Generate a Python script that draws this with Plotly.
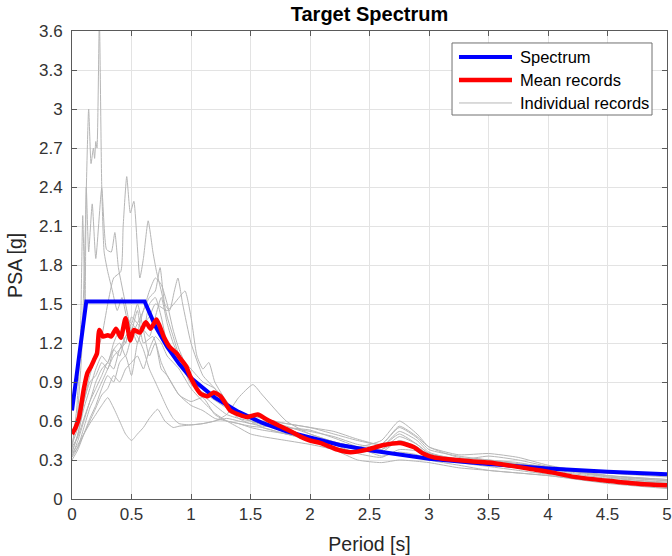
import plotly.graph_objects as go

# Target (design) spectrum
spec_T = [0.0, 0.12, 0.61, 0.7, 0.8, 0.9, 1.0, 1.2, 1.4, 1.6, 1.8, 2.0, 2.25, 2.5, 2.75,
          3.0, 3.5, 4.0, 4.5, 5.0]
spec_psa = [0.68, 1.52, 1.52, 1.33, 1.17, 1.04, 0.93, 0.78, 0.67, 0.585, 0.52, 0.47, 0.415,
            0.375, 0.34, 0.31, 0.27, 0.235, 0.21, 0.19]

# Mean of the selected records
mean_T = [0.0, 0.03, 0.06, 0.1, 0.13, 0.16, 0.19, 0.21, 0.23, 0.26, 0.3, 0.33, 0.37, 0.41,
          0.45, 0.49, 0.52, 0.57, 0.62, 0.66, 0.71, 0.77, 0.82, 0.88, 0.91, 0.96, 0.99,
          1.04, 1.08, 1.14, 1.19, 1.25, 1.33, 1.4, 1.47, 1.56, 1.64, 1.75, 1.86, 1.92,
          2.0, 2.09, 2.23, 2.34, 2.48, 2.62, 2.76, 2.87, 2.95, 3.04, 3.16, 3.35, 3.5,
          3.66, 3.86, 4.03, 4.22, 4.5, 4.78, 5.0]
mean_psa = [0.5, 0.55, 0.63, 0.85, 0.97, 1.02, 1.08, 1.12, 1.3, 1.25, 1.26, 1.25, 1.31,
            1.24, 1.39, 1.22, 1.3, 1.28, 1.36, 1.31, 1.38, 1.25, 1.17, 1.12, 1.08, 1.02,
            0.95, 0.86, 0.81, 0.79, 0.82, 0.79, 0.68, 0.65, 0.63, 0.65, 0.61, 0.56, 0.51,
            0.48, 0.45, 0.43, 0.38, 0.36, 0.38, 0.415, 0.43, 0.4, 0.35, 0.32, 0.305, 0.29,
            0.28, 0.26, 0.23, 0.205, 0.17, 0.14, 0.115, 0.105]

# Individual ground-motion records
rec01_T = [0.0, 0.04, 0.08, 0.11, 0.14, 0.16, 0.18, 0.19, 0.2, 0.21, 0.23, 0.25, 0.27, 0.3,
           0.34, 0.38, 0.42, 0.46, 0.5, 0.55, 0.6, 0.65, 0.7, 0.75, 0.8, 0.9, 1.0, 1.1,
           1.2, 1.3, 1.4, 1.5, 1.6, 1.8, 2.0, 2.2, 2.4, 2.6, 2.75, 2.9, 3.0, 3.25, 3.5,
           3.75, 4.0, 4.5, 5.0]
rec01_psa = [0.42, 0.6, 1.1, 2.0, 3.0, 2.58, 2.7, 2.62, 2.75, 2.7, 3.7, 2.4, 1.9, 1.75,
             1.6, 1.45, 1.55, 1.4, 1.35, 1.5, 1.3, 1.1, 1.2, 1.0, 0.95, 0.8, 0.72, 0.68,
             0.62, 0.6, 0.58, 0.55, 0.53, 0.5, 0.45, 0.4, 0.36, 0.4, 0.5, 0.42, 0.35, 0.3,
             0.27, 0.24, 0.2, 0.15, 0.12]

rec02_T = [0.0, 0.04, 0.07, 0.09, 0.11, 0.12, 0.14, 0.17, 0.2, 0.25, 0.29, 0.33, 0.36,
           0.39, 0.45, 0.5, 0.55, 0.6, 0.68, 0.75, 0.8, 0.9, 1.0, 1.1, 1.2, 1.3, 1.4, 1.5,
           1.6, 1.8, 2.0, 2.2, 2.4, 2.6, 2.75, 2.9, 3.0, 3.25, 3.5, 3.75, 4.0, 4.5, 5.0]
rec02_psa = [0.38, 0.7, 1.2, 2.18, 1.5, 2.4, 1.9, 2.27, 1.85, 2.39, 1.92, 1.9, 2.05, 1.78,
             1.5, 1.3, 1.45, 1.2, 1.25, 1.05, 0.95, 0.8, 0.75, 0.78, 0.65, 0.6, 0.58, 0.56,
             0.55, 0.5, 0.48, 0.42, 0.38, 0.36, 0.45, 0.4, 0.34, 0.3, 0.28, 0.25, 0.22,
             0.16, 0.13]

rec03_T = [0.0, 0.05, 0.1, 0.15, 0.2, 0.25, 0.3, 0.35, 0.41, 0.43, 0.46, 0.49, 0.52, 0.57,
           0.6, 0.64, 0.68, 0.71, 0.75, 0.8, 0.85, 0.9, 0.95, 1.0, 1.1, 1.2, 1.3, 1.4, 1.5,
           1.6, 1.8, 2.0, 2.2, 2.4, 2.6, 2.75, 2.9, 3.0, 3.25, 3.5, 3.75, 4.0, 4.5, 5.0]
rec03_psa = [0.36, 0.5, 0.75, 0.95, 1.1, 1.25, 1.5, 1.7, 1.75, 2.1, 2.48, 2.2, 2.29, 1.7,
             1.85, 2.14, 1.9, 1.75, 1.6, 1.4, 1.25, 1.1, 0.98, 0.88, 0.82, 0.76, 0.7, 0.66,
             0.64, 0.62, 0.58, 0.55, 0.5, 0.45, 0.42, 0.55, 0.47, 0.38, 0.33, 0.3, 0.27,
             0.24, 0.18, 0.15]

rec04_T = [0.0, 0.05, 0.1, 0.15, 0.2, 0.25, 0.3, 0.35, 0.4, 0.45, 0.5, 0.55, 0.6, 0.65,
           0.7, 0.74, 0.78, 0.82, 0.86, 0.89, 0.93, 1.0, 1.1, 1.2, 1.3, 1.4, 1.5, 1.6, 1.8,
           2.0, 2.2, 2.4, 2.6, 2.75, 2.9, 3.0, 3.25, 3.5, 3.75, 4.0, 4.5, 5.0]
rec04_psa = [0.33, 0.45, 0.6, 0.75, 0.85, 0.95, 1.05, 1.0, 1.15, 1.2, 1.35, 1.3, 1.45,
             1.55, 1.6, 1.78, 1.5, 1.45, 1.6, 1.7, 1.5, 1.2, 0.95, 0.85, 0.72, 0.66, 0.6,
             0.57, 0.55, 0.52, 0.48, 0.42, 0.4, 0.52, 0.45, 0.36, 0.3, 0.28, 0.26, 0.23,
             0.17, 0.14]

rec05_T = [0.0, 0.05, 0.1, 0.15, 0.2, 0.25, 0.3, 0.35, 0.4, 0.45, 0.5, 0.55, 0.6, 0.65,
           0.72, 0.78, 0.85, 0.9, 1.0, 1.1, 1.2, 1.3, 1.4, 1.5, 1.6, 1.8, 2.0, 2.2, 2.4,
           2.6, 2.75, 2.9, 3.0, 3.25, 3.5, 3.75, 4.0, 4.5, 5.0]
rec05_psa = [0.35, 0.42, 0.5, 0.58, 0.65, 0.72, 0.78, 0.7, 0.6, 0.5, 0.45, 0.5, 0.55, 0.62,
             0.69, 0.6, 0.55, 0.56, 0.57, 0.58, 0.6, 0.62, 0.6, 0.58, 0.56, 0.55, 0.53,
             0.47, 0.4, 0.33, 0.36, 0.34, 0.3, 0.26, 0.22, 0.2, 0.18, 0.13, 0.1]

rec06_T = [0.0, 0.05, 0.1, 0.15, 0.2, 0.25, 0.3, 0.35, 0.4, 0.45, 0.5, 0.55, 0.6, 0.65,
           0.7, 0.75, 0.8, 0.85, 0.9, 1.0, 1.1, 1.2, 1.3, 1.4, 1.52, 1.6, 1.8, 2.0, 2.2,
           2.4, 2.6, 2.75, 2.9, 3.0, 3.25, 3.5, 3.75, 4.0, 4.5, 5.0]
rec06_psa = [0.32, 0.4, 0.55, 0.7, 0.8, 0.9, 1.0, 1.1, 1.15, 1.25, 1.3, 1.25, 1.15, 1.0,
             0.9, 0.8, 0.7, 0.62, 0.58, 0.57, 0.58, 0.6, 0.65, 0.78, 0.88, 0.8, 0.6, 0.5,
             0.44, 0.4, 0.45, 0.6, 0.5, 0.4, 0.32, 0.3, 0.28, 0.24, 0.18, 0.15]

rec07_T = [0.0, 0.05, 0.1, 0.15, 0.2, 0.25, 0.3, 0.35, 0.4, 0.45, 0.5, 0.55, 0.6, 0.65,
           0.7, 0.8, 0.9, 0.95, 1.0, 1.05, 1.1, 1.15, 1.2, 1.3, 1.4, 1.5, 1.6, 1.8, 2.0,
           2.2, 2.4, 2.6, 2.75, 2.9, 3.0, 3.25, 3.5, 3.75, 4.0, 4.5, 5.0]
rec07_psa = [0.4, 0.48, 0.62, 0.75, 0.9, 1.0, 1.05, 1.15, 1.1, 1.25, 1.3, 1.2, 1.35, 1.4,
             1.5, 1.45, 1.55, 1.6, 1.4, 1.1, 1.0, 1.05, 0.9, 0.75, 0.65, 0.62, 0.6, 0.56,
             0.5, 0.44, 0.4, 0.38, 0.48, 0.42, 0.35, 0.31, 0.29, 0.27, 0.25, 0.2, 0.17]

rec08_T = [0.0, 0.05, 0.1, 0.15, 0.2, 0.25, 0.3, 0.35, 0.4, 0.45, 0.5, 0.55, 0.6, 0.65,
           0.7, 0.75, 0.8, 0.9, 1.0, 1.1, 1.2, 1.3, 1.4, 1.5, 1.6, 1.8, 2.0, 2.2, 2.4, 2.6,
           2.75, 2.9, 3.0, 3.25, 3.5, 3.75, 4.0, 4.5, 5.0]
rec08_psa = [0.36, 0.5, 0.7, 0.85, 1.0, 1.1, 1.05, 1.2, 1.3, 1.2, 1.4, 1.35, 1.3, 1.5,
             1.55, 1.4, 1.2, 1.05, 0.9, 0.8, 0.72, 0.65, 0.62, 0.6, 0.58, 0.52, 0.45, 0.4,
             0.36, 0.38, 0.44, 0.4, 0.34, 0.3, 0.33, 0.3, 0.25, 0.17, 0.12]

rec09_T = [0.0, 0.05, 0.1, 0.15, 0.2, 0.25, 0.3, 0.35, 0.4, 0.45, 0.5, 0.55, 0.6, 0.65,
           0.7, 0.75, 0.8, 0.85, 0.9, 1.0, 1.1, 1.2, 1.3, 1.4, 1.5, 1.6, 1.8, 2.0, 2.2,
           2.4, 2.6, 2.75, 2.9, 3.0, 3.25, 3.5, 3.75, 4.0, 4.5, 5.0]
rec09_psa = [0.3, 0.38, 0.5, 0.62, 0.72, 0.85, 0.95, 0.9, 1.05, 1.1, 0.95, 1.2, 1.3, 1.25,
             1.4, 1.55, 1.35, 1.2, 1.1, 1.0, 0.9, 0.85, 0.75, 0.66, 0.6, 0.55, 0.5, 0.46,
             0.42, 0.35, 0.32, 0.38, 0.37, 0.33, 0.28, 0.25, 0.22, 0.19, 0.13, 0.09]

rec10_T = rec09_T
rec10_psa = [0.42, 0.55, 0.75, 0.9, 0.95, 1.05, 1.0, 1.15, 1.2, 1.1, 1.25, 1.35, 1.45,
             1.6, 1.7, 1.65, 1.5, 1.3, 1.15, 0.95, 0.85, 0.8, 0.7, 0.62, 0.58, 0.6, 0.58,
             0.55, 0.52, 0.46, 0.42, 0.56, 0.48, 0.4, 0.34, 0.35, 0.32, 0.26, 0.18, 0.14]

rec11_T = rec09_T
rec11_psa = [0.34, 0.4, 0.5, 0.6, 0.7, 0.8, 0.85, 0.95, 0.9, 1.0, 1.05, 1.1, 1.0, 1.15,
             1.25, 1.2, 1.1, 1.05, 1.0, 0.85, 0.75, 0.66, 0.6, 0.55, 0.5, 0.48, 0.45, 0.42,
             0.38, 0.3, 0.28, 0.3, 0.29, 0.28, 0.24, 0.22, 0.2, 0.18, 0.12, 0.08]

records = [
    (rec01_T, rec01_psa), (rec02_T, rec02_psa), (rec03_T, rec03_psa),
    (rec04_T, rec04_psa), (rec05_T, rec05_psa), (rec06_T, rec06_psa),
    (rec07_T, rec07_psa), (rec08_T, rec08_psa), (rec09_T, rec09_psa),
    (rec10_T, rec10_psa), (rec11_T, rec11_psa),
]

x_ticks = [0, 0.5, 1, 1.5, 2, 2.5, 3, 3.5, 4, 4.5, 5]
x_labels = ["0", "0.5", "1", "1.5", "2", "2.5", "3", "3.5", "4", "4.5", "5"]
y_ticks = [0, 0.3, 0.6, 0.9, 1.2, 1.5, 1.8, 2.1, 2.4, 2.7, 3.0, 3.3, 3.6]
y_labels = ["0", "0.3", "0.6", "0.9", "1.2", "1.5", "1.8", "2.1", "2.4", "2.7", "3",
            "3.3", "3.6"]

legend_names = ["Spectrum", "Mean records", "Individual records"]

FONT = "Liberation Sans, Arial, Helvetica, sans-serif"
AXIS_COLOR = "#5a5a5a"
GRAY = "rgb(182,182,182)"
BLUE = "#0000ff"
RED = "#ff0000"

fig = go.Figure()

for t, v in records:
    fig.add_trace(go.Scatter(
        x=t, y=v, mode="lines",
        line=dict(color=GRAY, width=1, shape="spline", smoothing=0.5),
        showlegend=False, hoverinfo="skip",
    ))

fig.add_trace(go.Scatter(
    x=spec_T, y=spec_psa, mode="lines",
    line=dict(color=BLUE, width=4),
    name=legend_names[0], showlegend=False,
))

fig.add_trace(go.Scatter(
    x=mean_T, y=mean_psa, mode="lines",
    line=dict(color=RED, width=4.5, shape="spline", smoothing=0.6),
    name=legend_names[1], showlegend=False,
))

# Boxed legend in the upper-right corner of the axes (paper coordinates)
box_x0, box_x1, box_y0, box_y1 = 0.6387, 0.9748, 0.8205, 0.9744
key_x0, key_x1, text_x = 0.6504, 0.7395, 0.7496
row_y = [0.9444, 0.8953, 0.8462]
key_styles = [(BLUE, 4), (RED, 4.5), (GRAY, 1)]

fig.add_shape(type="rect", xref="paper", yref="paper",
              x0=box_x0, x1=box_x1, y0=box_y0, y1=box_y1,
              line=dict(color="#707070", width=1), fillcolor="white", layer="above")
for name, yy, (col, w) in zip(legend_names, row_y, key_styles):
    fig.add_shape(type="line", xref="paper", yref="paper",
                  x0=key_x0, x1=key_x1, y0=yy, y1=yy,
                  line=dict(color=col, width=w), layer="above")
    fig.add_annotation(text=name, xref="paper", yref="paper", x=text_x, y=yy,
                       xanchor="left", yanchor="middle", showarrow=False,
                       font=dict(family=FONT, size=16.5, color="#000000"))

# Vertical axis title, placed left of the tick labels
fig.add_annotation(text="PSA [g]", xref="paper", yref="paper", x=-0.096, y=0.5,
                   xanchor="center", yanchor="middle", textangle=-90, showarrow=False,
                   font=dict(family=FONT, size=19.5, color="#262626"))

fig.update_layout(
    width=672, height=556,
    margin=dict(l=72, r=5, t=31, b=57, autoexpand=False),
    paper_bgcolor="white", plot_bgcolor="white",
    font=dict(family=FONT, size=16, color="#262626"),
    title=dict(text="<b>Target Spectrum</b>", x=0.5, xanchor="center",
               xref="paper", y=1, yref="container", yanchor="top", pad=dict(t=7),
               font=dict(family=FONT, size=20, color="#000000")),
    showlegend=False,
)

fig.update_xaxes(
    range=[0, 5], tickvals=x_ticks, ticktext=x_labels, automargin=False,
    showgrid=True, gridcolor="#e3e3e3", gridwidth=1,
    showline=True, linecolor=AXIS_COLOR, linewidth=1, mirror="ticks",
    ticks="inside", ticklen=5, tickcolor=AXIS_COLOR,
    zeroline=False,
    tickfont=dict(size=17, color="#333333"),
    title=dict(text="Period [s]", font=dict(size=19.5, color="#262626"), standoff=13),
)
fig.update_yaxes(
    range=[0, 3.6], tickvals=y_ticks, ticktext=y_labels, automargin=False,
    showgrid=True, gridcolor="#e3e3e3", gridwidth=1,
    showline=True, linecolor=AXIS_COLOR, linewidth=1, mirror="ticks",
    ticks="inside", ticklen=5, tickcolor=AXIS_COLOR,
    zeroline=False, ticklabelstandoff=5,
    tickfont=dict(size=17, color="#333333"),
)

fig.write_html("out.html")
